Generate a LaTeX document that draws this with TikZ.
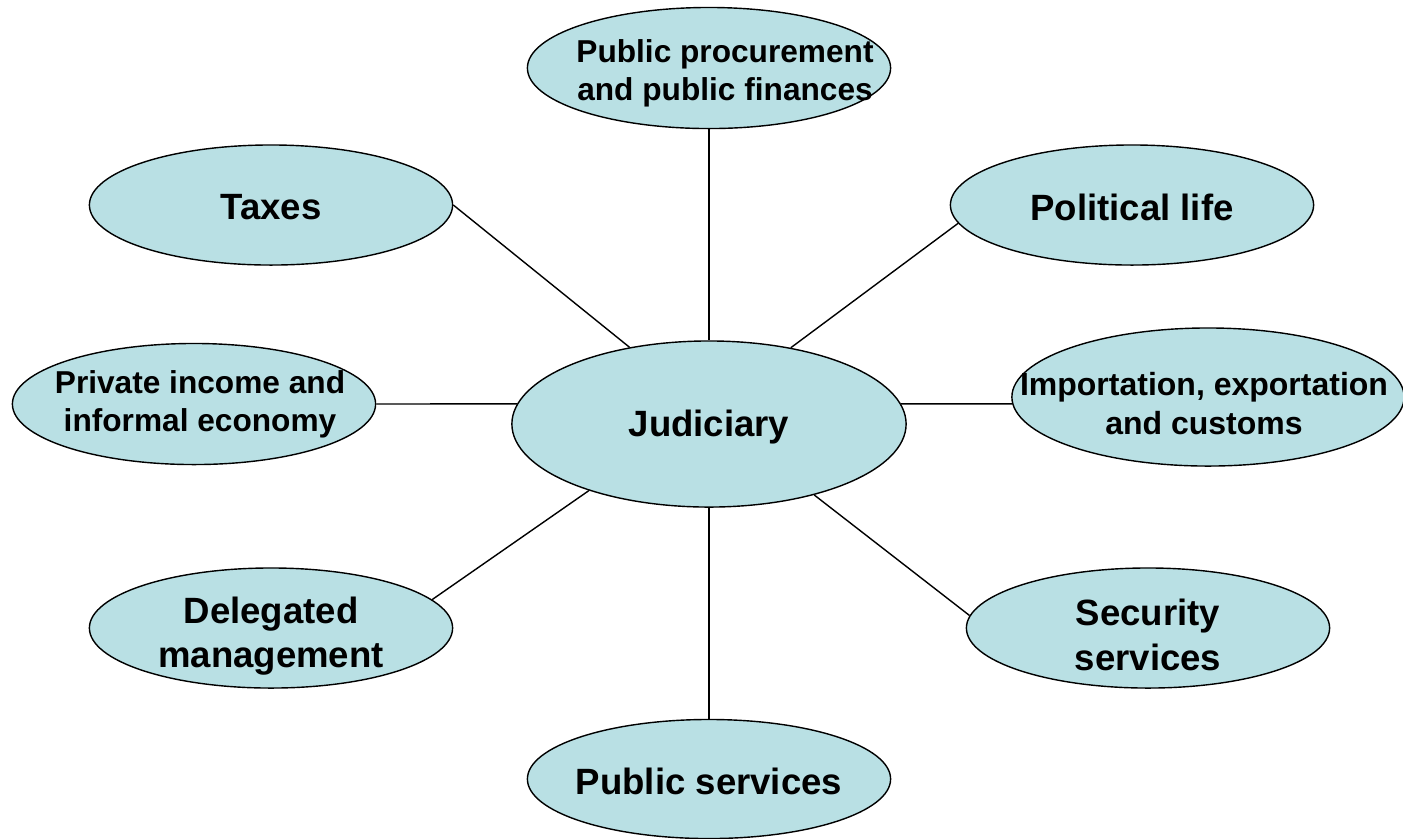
\documentclass[tikz,border=0pt]{standalone}
\usepackage{fontspec}
\setmainfont{Liberation Sans}
\usetikzlibrary{shapes}
\definecolor{paleblue}{RGB}{185,224,228}
\tikzset{
    topic/.style={ellipse, draw=black, fill=paleblue, line width=0.4pt, inner sep=0pt,
        minimum width=3.63cm, minimum height=1.2cm},
    bigtext/.style={font=\fontsize{10.4}{12.6}\selectfont\bfseries, align=center},
    smalltext/.style={font=\fontsize{9}{10.8}\selectfont\bfseries, align=center},
    link/.style={draw=black, line width=0.4pt},
}

\begin{document}
\begin{tikzpicture}[x=0.01cm, y=-0.01cm]
\useasboundingbox (0,0) rectangle (1403,838);

		% centre
		\node[topic, minimum width=3.94cm, minimum height=1.66cm,
			label={[bigtext, yshift=-0.03cm]center:Judiciary}] (judiciary) at (709,424) {};

		% fields round it
		\node[topic, minimum height=1.21cm,
			label={[smalltext, xshift=0.16cm, yshift=-0.05cm]center:{Public procurement\\and public finances}}] (procure) at (709,68) {};
		\node[topic, label={[bigtext, yshift=-0.02cm]center:Taxes}] (taxes) at (271,205) {};
		\node[topic, label={[bigtext, yshift=-0.02cm]center:Political life}] (political) at (1132,205) {};
		\node[topic, minimum height=1.21cm,
			label={[smalltext, xshift=0.06cm]center:{Private income and\\informal economy}}] (private) at (194,404) {};
		\node[topic, minimum width=3.92cm, minimum height=1.38cm,
			label={[smalltext, font=\fontsize{9.1}{11.1}\selectfont\bfseries, xshift=-0.04cm, yshift=-0.07cm]center:{Importation, exportation\\and customs}}] (importation) at (1208,397) {};
		\node[topic, label={[bigtext, yshift=-0.08cm]center:{Delegated\\management}}] (delegated) at (271,628) {};
		\node[topic, label={[bigtext, yshift=-0.07cm]center:{Security\\services}}] (security) at (1148,628) {};
		\node[topic, minimum height=1.19cm,
			label={[bigtext, yshift=-0.02cm]center:Public services}] (pubserv) at (709,779) {};

		% spokes
		\draw[link] (procure.south) -- (judiciary.north);
		\draw[link] (taxes.east) -- (judiciary.136);
		\draw[link] (political.186) -- (judiciary.43);
		\draw[link] (private.east) -- (judiciary.174);
		\draw[link] (judiciary.6) -- (importation.182);
		\draw[link] (delegated.10) -- (judiciary.209);
		\draw[link] (security.176) -- (judiciary.326);
		\draw[link] (judiciary.south) -- (pubserv.north);
\end{tikzpicture}
\end{document}
